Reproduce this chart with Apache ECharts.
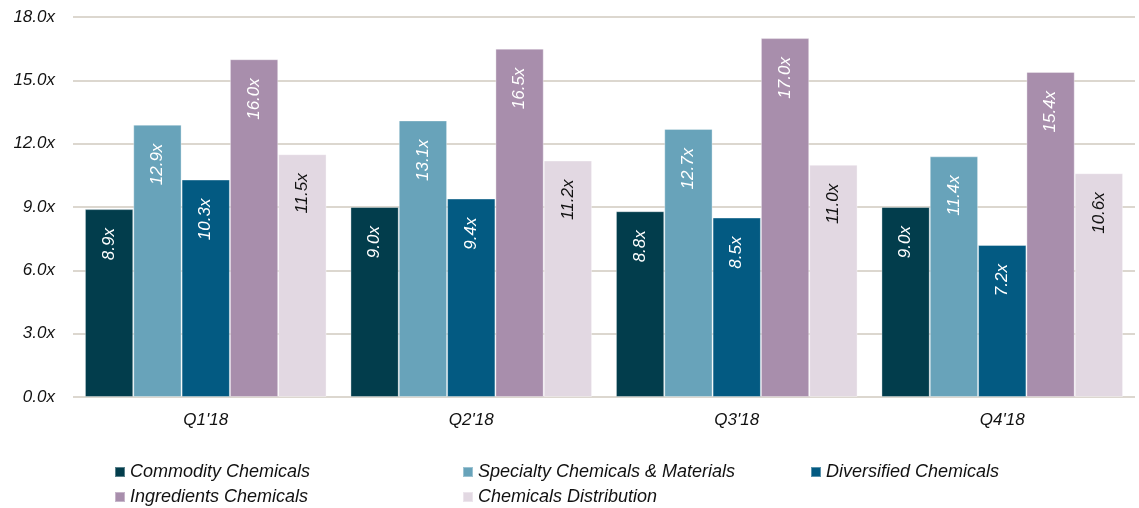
<!DOCTYPE html>
<html><head><meta charset="utf-8">
<script src="https://cdn.jsdelivr.net/npm/echarts@6/dist/echarts.min.js"></script>
<style>html,body{margin:0;padding:0;background:#fff}#c{width:1139px;height:508px}</style>
</head><body><div id="c"></div>
<script>
const categories = ["Q1'18", "Q2'18", "Q3'18", "Q4'18"];
const seriesNames = ["Commodity Chemicals", "Specialty Chemicals & Materials", "Diversified Chemicals", "Ingredients Chemicals", "Chemicals Distribution"];
const commodity = [8.9, 9.0, 8.8, 9.0];
const specialty = [12.9, 13.1, 12.7, 11.4];
const diversified = [10.3, 9.4, 8.5, 7.2];
const ingredients = [16.0, 16.5, 17.0, 15.4];
const distribution = [11.5, 11.2, 11.0, 10.6];
const yTicks = [0, 3, 6, 9, 12, 15, 18];

const values = [commodity, specialty, diversified, ingredients, distribution];
const colors = ['#023D4C', '#68A3BA', '#035A82', '#A88EAC', '#E2D8E2'];
const labelColors = ['#fff', '#fff', '#fff', '#fff', '#111'];
const FONT = 'Liberation Sans';

const chart = echarts.init(document.getElementById('c'), null, {renderer: 'canvas'});
const legendPos = [[114, 463], [462, 463], [810, 463], [114, 488], [462, 488]];

const series = seriesNames.map((name, i) => ({
  name, type: 'bar', data: values[i],
  barGap: '0%', barCategoryGap: '9%',
  itemStyle: {color: colors[i], borderColor: 'rgba(255,255,255,0.35)', borderWidth: 1},
  label: {
    show: true, position: 'insideTop', rotate: 90, align: 'right', verticalAlign: 'middle',
    distance: 19, color: labelColors[i], fontFamily: FONT, fontStyle: 'italic', fontSize: 17,
    formatter: p => p.value.toFixed(1) + 'x'
  }
}));

chart.setOption({
  animation: false,
  color: colors,
  grid: {left: 73, right: 4, top: 17, bottom: 111},
  legend: seriesNames.map((n, i) => ({
    data: [n], left: legendPos[i][0], top: legendPos[i][1], orient: 'horizontal',
    itemWidth: 10, itemHeight: 10, itemGap: 0, icon: 'rect', padding: 0,
    textStyle: {fontFamily: FONT, fontStyle: 'italic', fontSize: 18, color: '#111'},
    selectedMode: false
  })),
  xAxis: {
    type: 'category', data: categories,
    axisLine: {show: false}, axisTick: {show: false},
    axisLabel: {fontFamily: FONT, fontStyle: 'italic', fontSize: 17, color: '#111', margin: 15}
  },
  yAxis: {
    type: 'value', min: yTicks[0], max: yTicks[yTicks.length - 1], interval: 3,
    axisLine: {show: false}, axisTick: {show: false},
    splitLine: {lineStyle: {color: '#DCD7CF', width: 2}},
    axisLabel: {fontFamily: FONT, fontStyle: 'italic', fontSize: 17, color: '#111', margin: 18,
      formatter: v => v.toFixed(1) + 'x'}
  },
  series
});
</script></body></html>
